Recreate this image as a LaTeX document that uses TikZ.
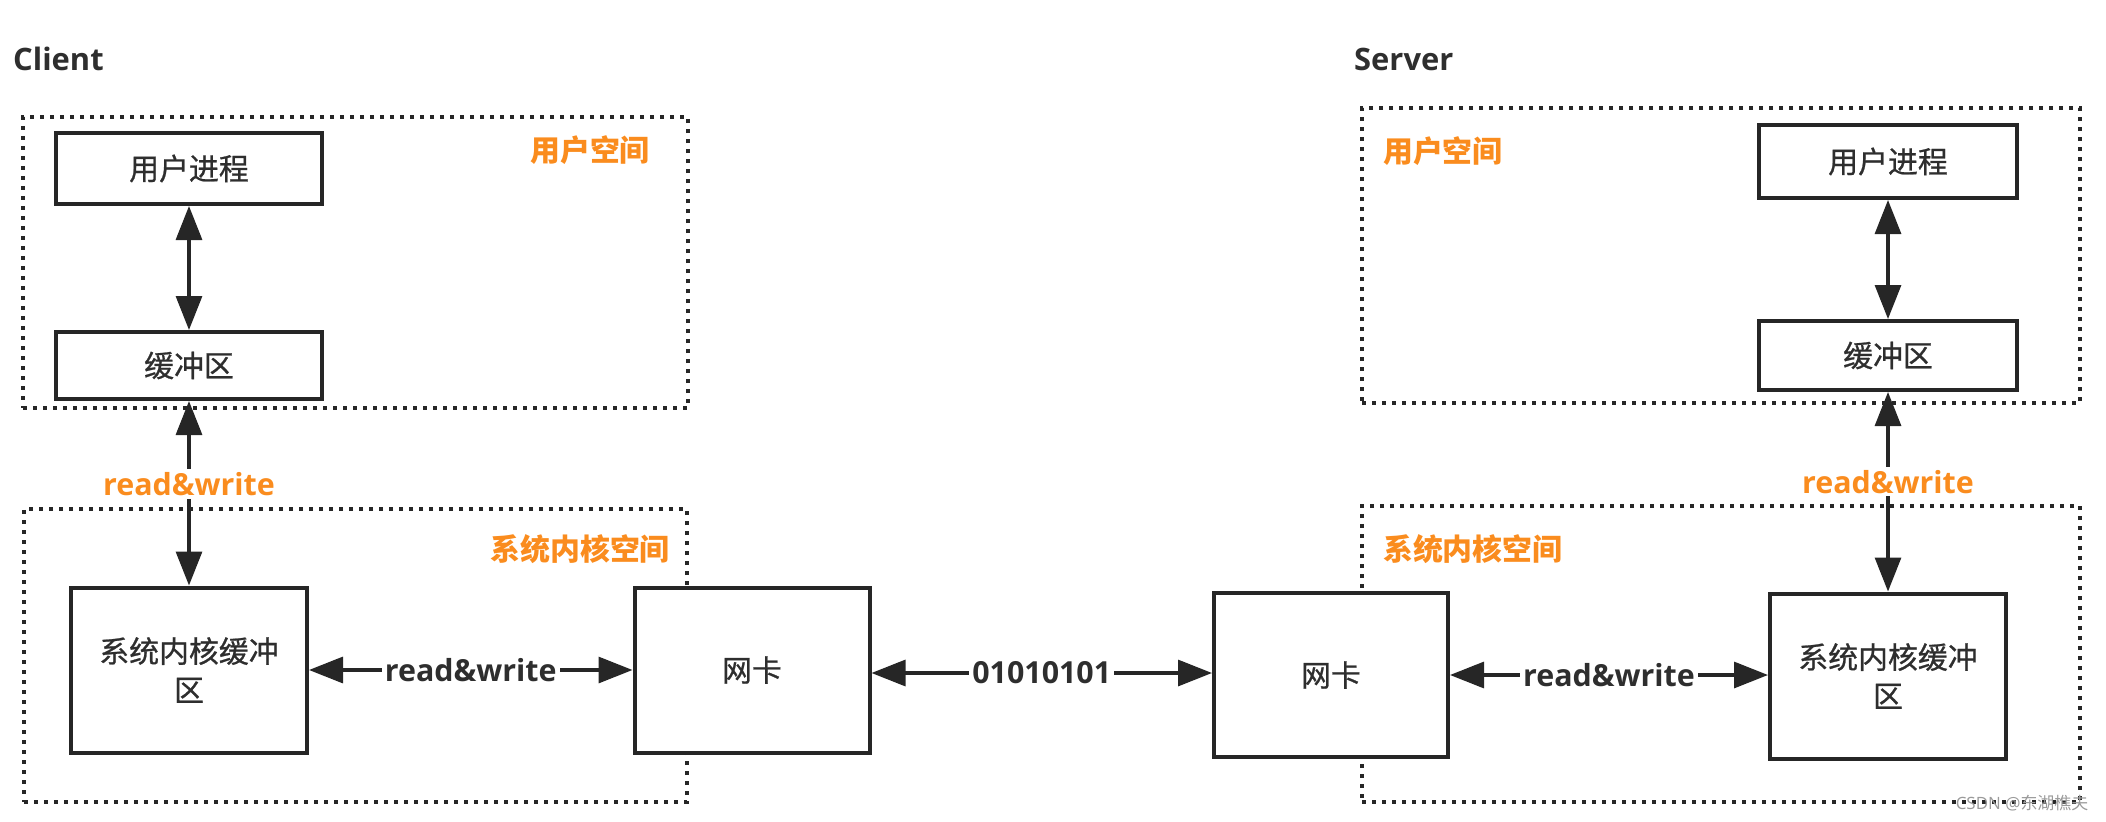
\documentclass[tikz,border=0pt]{standalone}
\usepackage{fontspec}
\setmainfont{Open Sans}
\newfontfamily\cjk{Noto Sans CJK SC}
\newfontfamily\cjkbox{Noto Sans CJK SC}[FakeBold=0.8]
\usetikzlibrary{arrows.meta}
\definecolor{ink}{HTML}{262626}
\definecolor{txt}{HTML}{2E2E2E}
\definecolor{orng}{HTML}{FA8C1E}
\definecolor{wm}{HTML}{9A9A9A}
\tikzset{
  regionbox/.style={draw=ink, line width=4bp, dash pattern=on 4bp off 6bp, inner sep=0pt},
  solidbox/.style={draw=ink, line width=4bp, fill=white, inner sep=0pt, align=center,
    text=txt, font=\cjkbox\fontsize{30}{39}\selectfont},
  dbl/.style={draw=ink, line width=3.2bp,
    {Triangle[length=34bp,width=26bp]}-{Triangle[length=34bp,width=26bp]}},
  blklbl/.style={fill=white, inner sep=3bp, text=txt, font=\bfseries\fontsize{30.5}{36}\selectfont},
  orglbl/.style={fill=white, inner sep=3bp, text=orng, font=\bfseries\fontsize{30.5}{36}\selectfont},
  spacelbl/.style={inner sep=0pt, text=orng, font=\cjk\bfseries\fontsize{30}{36}\selectfont},
  sidelbl/.style={inner sep=0pt, text=txt, anchor=west, font=\bfseries\fontsize{31}{36}\selectfont},
}
\begin{document}
\begin{tikzpicture}[x=1bp,y=-1bp]
\useasboundingbox (0,0) rectangle (2106,822);
% titles
\node[sidelbl] (tclient) at (13,59) {Client};
\node[sidelbl] (tserver) at (1354,59) {Server};
% dotted regions
\node[regionbox, minimum width=665bp, minimum height=291bp] (cuser) at (355.5,262.5) {};
\node[regionbox, minimum width=663bp, minimum height=293bp] (ckern) at (355.5,655.5) {};
\node[regionbox, minimum width=718bp, minimum height=295bp] (suser) at (1721,255.5) {};
\node[regionbox, minimum width=718bp, minimum height=296bp] (skern) at (1721,654) {};
% region labels
\node[spacelbl] (cuserlbl) at (590,150) {用户空间};
\node[spacelbl, anchor=east] (ckernlbl) at (670,549) {系统内核空间};
\node[spacelbl, anchor=west] (suserlbl) at (1383,151) {用户空间};
\node[spacelbl, anchor=west] (skernlbl) at (1383,549) {系统内核空间};
% client boxes
\node[solidbox, minimum width=266bp, minimum height=71bp] (cproc) at (189,168.5) {用户进程};
\node[solidbox, minimum width=266bp, minimum height=67bp] (cbuf) at (189,365.5) {缓冲区};
\node[solidbox, minimum width=236bp, minimum height=165bp] (ckb) at (189,670) {系统内核缓冲\\区};
\node[solidbox, minimum width=235bp, minimum height=165bp] (cnic) at (752,670) {网卡};
% server boxes
\node[solidbox, minimum width=258bp, minimum height=73bp] (sproc) at (1888,161.5) {用户进程};
\node[solidbox, minimum width=258bp, minimum height=69bp] (sbuf) at (1888,355.5) {缓冲区};
\node[solidbox, minimum width=236bp, minimum height=165bp] (skb) at (1888,676) {系统内核缓冲\\区};
\node[solidbox, minimum width=234bp, minimum height=164bp] (snic) at (1331,675) {网卡};
% connectors
\draw[dbl] (cproc) -- (cbuf);
\draw[dbl] (cbuf) -- (ckb) node[orglbl, pos=0.45] (crw) {read\&write};
\draw[dbl] (ckb) -- (cnic) node[blklbl, midway] (chrw) {read\&write};
\coordinate (nicmid) at (1041,673);
\draw[dbl] (cnic.east |- nicmid) -- (snic.west |- nicmid) node[blklbl, midway] (bits) {01010101};
\draw[dbl] (snic) -- (skb.west |- snic) node[blklbl, midway] (shrw) {read\&write};
\draw[dbl] (sproc) -- (sbuf);
\draw[dbl] (sbuf) -- (skb) node[orglbl, pos=0.45] (srw) {read\&write};
% watermark
\node[inner sep=0pt, text=wm, font=\fontsize{17}{20}\selectfont] (wmark) at (2022,803) {CSDN @{\cjk 东湖樵夫}};
\end{tikzpicture}
\end{document}
